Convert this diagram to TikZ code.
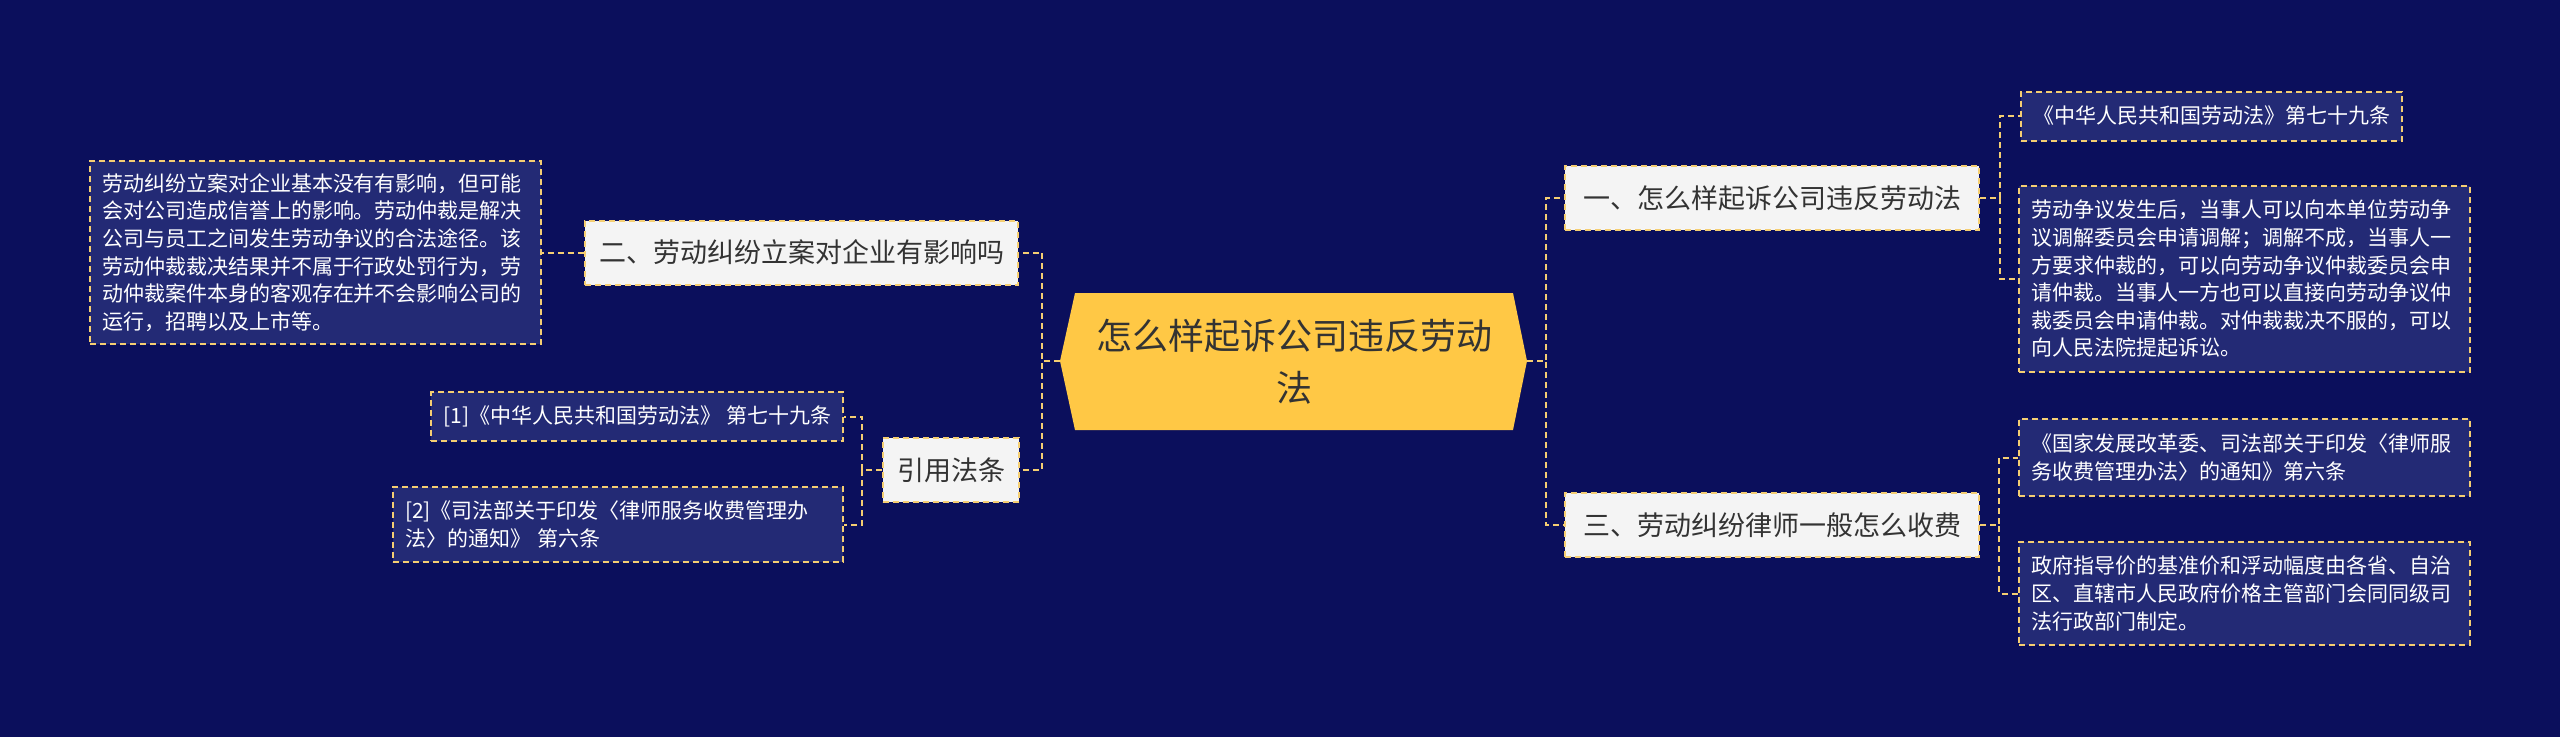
\documentclass[tikz,border=0pt]{standalone}
\usepackage{fontspec}
\setmainfont{Noto Sans CJK SC}
\usetikzlibrary{positioning}
\definecolor{bgnavy}{HTML}{0B0F5C}
\definecolor{leafnavy}{HTML}{232A75}
\definecolor{dashgold}{HTML}{F5CE72}
\definecolor{rootgold}{HTML}{FFC845}
\definecolor{darktext}{HTML}{333333}
\definecolor{topicgray}{HTML}{F4F4F4}
\tikzstyle{topic} = [rectangle, draw=dashgold, line width=2pt, dash pattern=on 6pt off 4pt, fill=topicgray, text=darktext, font=\fontsize{27}{33}\selectfont, inner xsep=14pt, minimum height=64pt]
\tikzstyle{leaf} = [rectangle, draw=dashgold, line width=2pt, dash pattern=on 6pt off 4pt, fill=leafnavy, text=white, font=\fontsize{21}{27.6}\selectfont, align=left, inner xsep=12pt]
\tikzstyle{link} = [draw=dashgold, line width=2pt, dash pattern=on 6pt off 4pt]

\begin{document}
\begin{tikzpicture}[x=1pt, y=-1pt]
\useasboundingbox (0,0) rectangle (2560,737);
\fill[bgnavy] (0,0) rectangle (2560,737);

% Root
\fill[rootgold] (1075,293) -- (1513,293) -- (1527,361) -- (1513,430) -- (1075,430) -- (1060,361) -- cycle;
\coordinate (rootL) at (1060,361);
\coordinate (rootR) at (1527,361);
\node (root) [align=center, text=darktext, font=\fontsize{36}{52}\selectfont] at (1294,361.5) {怎么样起诉公司违反劳动\\法};

% Topics
\node (q1) [topic, minimum width=414pt] at (1772,198) {一、怎么样起诉公司违反劳动法};
\node (q3) [topic, minimum width=414pt] at (1772,525) {三、劳动纠纷律师一般怎么收费};
\node (q2) [topic] at (801.5,252.5) {二、劳动纠纷立案对企业有影响吗};
\node (cite) [topic] at (951,470) {引用法条};

% Leaves
\node (q1a) [leaf, anchor=west, minimum height=49pt] at (2020,116) {《中华人民共和国劳动法》第七十九条};
\node (q1b) [leaf, anchor=west, text width=427pt, minimum height=186pt] at (2018,279) {
    劳动争议发生后，当事人可以向本单位劳动争\\
    议调解委员会申请调解；调解不成，当事人一\\
    方要求仲裁的，可以向劳动争议仲裁委员会申\\
    请仲裁。当事人一方也可以直接向劳动争议仲\\
    裁委员会申请仲裁。对仲裁裁决不服的，可以\\
    向人民法院提起诉讼。
};
\node (q3a) [leaf, anchor=west, text width=427pt, minimum height=77pt] at (2018,457.5) {
    《国家发展改革委、司法部关于印发〈律师服\\
    务收费管理办法〉的通知》第六条
};
\node (q3b) [leaf, anchor=west, text width=427pt, minimum height=103pt] at (2018,593.5) {
    政府指导价的基准价和浮动幅度由各省、自治\\
    区、直辖市人民政府价格主管部门会同同级司\\
    法行政部门制定。
};
\node (q2a) [leaf, anchor=east, text width=427pt, minimum height=183pt] at (542,252.5) {
    劳动纠纷立案对企业基本没有有影响，但可能\\
    会对公司造成信誉上的影响。劳动仲裁是解决\\
    公司与员工之间发生劳动争议的合法途径。该\\
    劳动仲裁裁决结果并不属于行政处罚行为，劳\\
    动仲裁案件本身的客观存在并不会影响公司的\\
    运行，招聘以及上市等。
};
\node (c1) [leaf, anchor=east, minimum height=49pt] at (844,416.5) {[1]《中华人民共和国劳动法》 第七十九条};
\node (c2) [leaf, anchor=east, text width=426pt, minimum height=75pt] at (844,524.5) {
    [2]《司法部关于印发〈律师服务收费管理办\\
    法〉的通知》 第六条
};

% Connections
\draw [link] (rootR) -- ++(19,0) |- (q1.west);
\draw [link] (rootR) -- ++(19,0) |- (q3.west);
\draw [link] (rootL) -- ++(-18,0) |- (q2.east);
\draw [link] (rootL) -- ++(-18,0) |- (cite.east);

\draw [link] (q1.east) -- ++(20,0) |- (q1a.west);
\draw [link] (q1.east) -- ++(20,0) |- (q1b.west);
\draw [link] (q3.east) -- ++(19,0) |- (q3a.west);
\draw [link] (q3.east) -- ++(19,0) |- (q3b.west);
\draw [link] (q2.west) -- (q2a.east);
\draw [link] (cite.west) -- ++(-20,0) |- (c1.east);
\draw [link] (cite.west) -- ++(-20,0) |- (c2.east);

\end{tikzpicture}
\end{document}
